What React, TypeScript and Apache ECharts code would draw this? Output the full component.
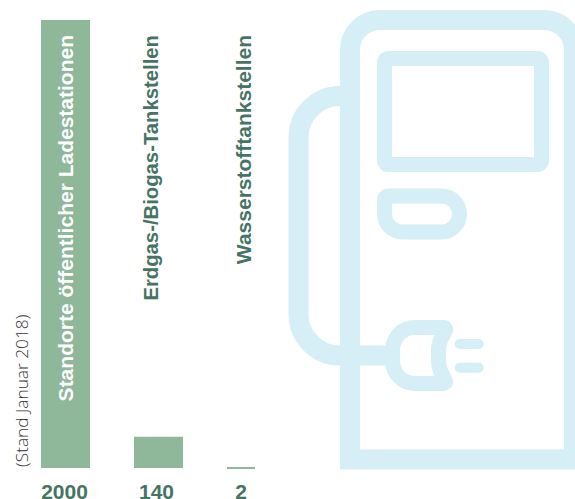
import React, { useEffect, useRef } from "react";
import * as echarts from "echarts";

const categories = [
  "Standorte öffentlicher Ladestationen",
  "Erdgas-/Biogas-Tankstellen",
  "Wasserstofftankstellen",
];
const values = [2000, 140, 2];
const note = "(Stand Januar 2018)";

const BAR = "#8fb79a";
const TEXT = "#467464";
const ICON = "#d6eef6";
const FONT = "'Liberation Sans', Arial, sans-serif";

// per-bar drawing tweaks relative to the category band centre
const barWidths = [49, 49, 28];
const barShift = [0, 0, -10.5];
const nameX = [65.5, 150.5, 243];
const nameSize = [21, 20.3, 21];
const valueX = [64.5, 156.5, 241];
const nameColor = ["#ffffff", TEXT, TEXT];
const nameTop = 35;

const bodyPath =
  "M350 459.5 V50 A30 30 0 0 1 380 20 H544 A30 30 0 0 1 574 50 V459.5 Z";
const partsPath = [
  "M388.5 58.5 H537.5 A4 4 0 0 1 541.5 62.5 V160.5 A4 4 0 0 1 537.5 164.5 H388.5 A4 4 0 0 1 384.5 160.5 V62.5 A4 4 0 0 1 388.5 58.5 Z",
  "M384.5 200 A4 4 0 0 1 388.5 196 H441.5 A18 18 0 0 1 441.5 232 H402.5 A18 18 0 0 1 384.5 214 Z",
  "M392.7 349.5 A22 22 0 0 1 414.7 327.5 H443 Q447 327.5 445 331.5 L441 339 Q438.5 344 438.5 350 V361 Q438.5 367 441 372 L445 379.5 Q447 383.5 443 383.5 H414.7 A22 22 0 0 1 392.7 361.5 Z",
].join(" ");
const cablePath =
  "M340 96 A41.5 41.5 0 0 0 298.5 137.5 V314 A41.5 41.5 0 0 0 340 355.5 H388";
const prongPath = "M459.7 344 H478.7 M459.7 367.7 H478.7";

echarts.graphic.registerShape("iconBody", echarts.graphic.extendPath(bodyPath, {}) as any);
echarts.graphic.registerShape("iconParts", echarts.graphic.extendPath(partsPath, {}) as any);
echarts.graphic.registerShape("iconCable", echarts.graphic.extendPath(cablePath, {}) as any);
echarts.graphic.registerShape("iconProngs", echarts.graphic.extendPath(prongPath, {}) as any);

export default function App() {
  const ref = useRef<HTMLDivElement>(null);
  useEffect(() => {
    document.body.style.margin = "0";
    const chart = echarts.init(ref.current!, undefined, { renderer: "svg" });
    const iconShape = (type: string, lineWidth: number, join: string, cap: string) => ({
      type,
      x: 0,
      y: 0,
      silent: true,
      style: { fill: "none", stroke: ICON, lineWidth, lineJoin: join, lineCap: cap },
    });
    chart.setOption({
      animation: false,
      grid: { left: 19, width: 279, top: 20, bottom: 31 },
      xAxis: { type: "category", data: categories, show: false },
      yAxis: { type: "value", min: 0, max: 2000, show: false },
      graphic: [
        iconShape("iconCable", 20, "round", "round"),
        iconShape("iconBody", 20, "miter", "butt"),
        iconShape("iconParts", 15, "round", "round"),
        iconShape("iconProngs", 10, "round", "round"),
        {
          type: "text",
          x: 21,
          y: 467,
          rotation: Math.PI / 2,
          silent: true,
          style: {
            text: note,
            fontFamily: "'Open Sans', sans-serif",
            fontWeight: 300,
            fontSize: 17.3,
            fill: "#333333",
            align: "left",
            verticalAlign: "middle",
          },
        },
      ],
      series: [
        {
          type: "custom",
          clip: false,
          silent: true,
          data: values.map((v, i) => [i, v]),
          renderItem: (params: any, api: any) => {
            const i = params.dataIndex;
            const top = api.coord([api.value(0), api.value(1)]);
            const base = api.coord([api.value(0), 0]);
            const w = barWidths[i];
            const cx = top[0] + barShift[i];
            const h = Math.max(base[1] - top[1], 2);
            return {
              type: "group",
              children: [
                {
                  type: "rect",
                  shape: { x: cx - w / 2, y: base[1] - h + (i === 2 ? 1 : 0), width: w, height: h },
                  style: { fill: BAR },
                },
                {
                  type: "text",
                  x: nameX[i],
                  y: nameTop,
                  rotation: Math.PI / 2,
                  style: {
                    text: categories[i],
                    fontFamily: FONT,
                    fontWeight: "bold",
                    fontSize: nameSize[i],
                    fill: nameColor[i],
                    align: "right",
                    verticalAlign: "middle",
                  },
                },
                {
                  type: "text",
                  x: valueX[i],
                  y: 491,
                  style: {
                    text: String(api.value(1)),
                    fontFamily: FONT,
                    fontWeight: "bold",
                    fontSize: 21,
                    fill: TEXT,
                    align: "center",
                    verticalAlign: "middle",
                  },
                },
              ],
            };
          },
        },
      ],
    });
    return () => chart.dispose();
  }, []);
  return <div ref={ref} style={{ width: 575, height: 499 }} />;
}
